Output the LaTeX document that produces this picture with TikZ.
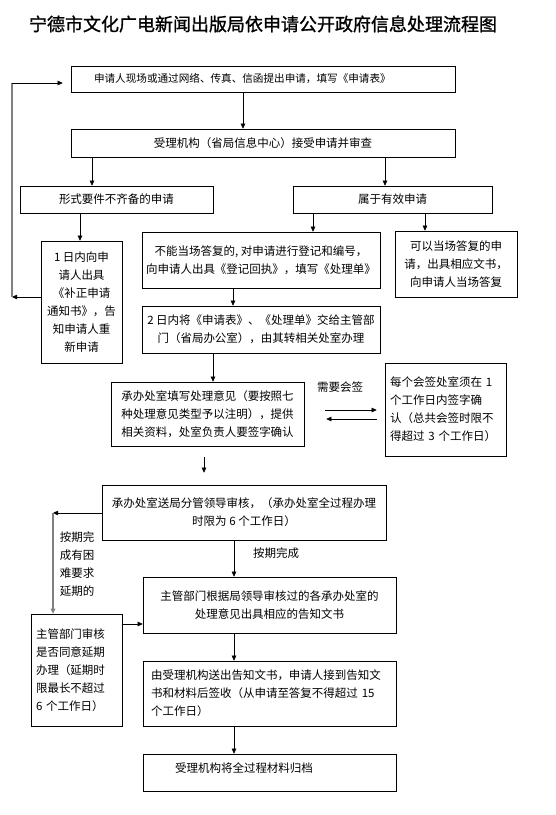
\documentclass[tikz,border=0pt]{standalone}
\usepackage{fontspec}
\setmainfont{Noto Sans CJK SC}
\newfontfamily\titlefont[FakeBold=1.2]{Noto Sans CJK SC}
\usetikzlibrary{arrows.meta}
\begin{document}
\begin{tikzpicture}[x=1pt,y=-1pt,
  >={Triangle[length=5pt,width=4.5pt]},
  box/.style={draw,line width=0.6pt,inner sep=3pt,align=center,
    font=\fontsize{11.5}{18}\selectfont},
  lbl/.style={font=\fontsize{11.5}{18}\selectfont,inner sep=0pt}]
\useasboundingbox (0,0) rectangle (555,815);
\node [font=\titlefont\fontsize{18}{20}\selectfont] (title) at (263,24) {宁德市文化广电新闻出版局依申请公开政府信息处理流程图};
\node [box,minimum height=26pt,inner xsep=23pt,text width=338pt,align=left,font=\fontsize{10.6}{18}\selectfont] (apply) at (263,79) {申请人现场或通过网络、传真、信函提出申请，填写《申请表》};
\node [box,minimum width=384pt,minimum height=28pt] (accept) at (263,143) {受理机构（省局信息中心）接受申请并审查};
\node [box,minimum width=193pt,minimum height=27pt] (incomplete) at (116.5,199.5) {形式要件不齐备的申请};
\node [box,minimum width=199pt,minimum height=27pt] (valid) at (392.5,199.5) {属于有效申请};
\node [box,minimum width=81pt,minimum height=122pt] (notice) at (81.5,302) {1 日内向申\\请人出具\\《补正申请\\通知书》，告\\知申请人重\\新申请};
\node [box,minimum width=238pt,minimum height=56pt] (register) at (261,260) {不能当场答复的, 对申请进行登记和编号，\\向申请人出具《登记回执》，填写《处理单》};
\node [box,minimum width=122pt,minimum height=66pt] (answer) at (456,264) {可以当场答复的申\\请，出具相应文书，\\向申请人当场答复};
\node [box,minimum width=238pt,minimum height=47pt] (forward) at (261,329.5) {2 日内将《申请表》、《处理单》交给主管部\\门（省局办公室），由其转相关处室办理};
\node [box,minimum width=193pt,minimum height=64pt] (opinion) at (207.5,414) {承办处室填写处理意见（要按照七\\种处理意见类型予以注明），提供\\相关资料，处室负责人要签字确认};
\node [box,minimum height=93pt,inner xsep=5pt,text width=111pt,align=left] (cosign) at (445.5,409.5) {每个会签处室须在 1\\个工作日内签字确\\认（总共会签时限不\\得超过 3 个工作日）};
\node [box,minimum width=284pt,minimum height=55pt] (review) at (244,512.5) {承办处室送局分管领导审核，（承办处室全过程办理\\时限为 6 个工作日）};
\node [box,minimum height=112pt,inner xsep=5pt,text width=81pt,align=left] (extend) at (76.5,670) {主管部门审核\\是否同意延期\\办理（延期时\\限最长不超过\\6 个工作日）};
\node [box,minimum width=253pt,minimum height=56pt] (reply) at (269.5,605) {主管部门根据局领导审核过的各承办处室的\\处理意见出具相应的告知文书};
\node [box,minimum height=65pt,inner xsep=8pt,text width=237pt,align=left] (deliver) at (269.5,693.5) {由受理机构送出告知文书，申请人接到告知文\\书和材料后签收（从申请至答复不得超过 15\\个工作日）};
\node [box,minimum height=37pt,inner xsep=32pt,text width=189pt,align=left,text depth=9pt] (archive) at (269.5,772.5) {受理机构将全过程材料归档};
\node [lbl] (need) at (340,387) {需要会签};
\node [lbl,align=left] (late) at (77,564) {按期完\\成有困\\难要求\\延期的};
\node [lbl] (ontime) at (276,553) {按期完成};
\coordinate (loopb) at (12,297);
\coordinate (loopt) at (12,83);
\coordinate (corner) at (53,513);
\draw[->] ([xshift=-20pt]accept.north |- apply.south) -- ([xshift=-20pt]accept.north);
\draw[->] ([xshift=-24.5pt]incomplete.north |- accept.south) -- ([xshift=-24.5pt]incomplete.north);
\draw[->] ([xshift=-7.5pt]valid.north |- accept.south) -- ([xshift=-7.5pt]valid.north);
\draw[->] ([xshift=-1.5pt]notice.north |- incomplete.south) -- ([xshift=-1.5pt]notice.north);
\draw[->] ([xshift=52pt]register.north |- valid.south) -- ([xshift=52pt]register.north);
\draw[->] ([xshift=-31pt]answer.north |- valid.south) -- ([xshift=-31pt]answer.north);
\draw[->] ([xshift=-28pt]forward.north |- register.south) -- ([xshift=-28pt]forward.north);
\draw[->] ([xshift=5.5pt]opinion.north |- forward.south) -- ([xshift=5.5pt]opinion.north);
\draw[->,shorten <=21pt,shorten >=8pt] ([yshift=4pt]opinion.east) -- ([yshift=4pt]opinion.east -| cosign.west);
\draw[->,shorten <=8pt,shorten >=22pt] ([yshift=-5pt]opinion.east -| cosign.west) -- ([yshift=-5pt]opinion.east);
\draw[->,shorten <=11pt,shorten >=12pt] ([xshift=-40pt]review.north |- opinion.south) -- ([xshift=-40pt]review.north);
\draw[->] ([yshift=-0.5pt]review.west) -- (corner);
\draw[->,gray,line width=1.2pt] (corner) -- (extend.north -| corner);
\draw[->] ([xshift=-35.5pt]reply.north |- review.south) -- ([xshift=-35.5pt]reply.north);
\draw[->] ([yshift=46pt]extend.east) -- ([yshift=46pt]extend.east -| reply.west);
\draw[->] ([xshift=-35.5pt]deliver.north |- reply.south) -- ([xshift=-35.5pt]deliver.north);
\draw[->] ([xshift=-35.5pt]archive.north |- deliver.south) -- ([xshift=-35.5pt]archive.north);
\draw[->] ([yshift=5pt]notice.west) -- (loopb);
\draw[gray,line width=1.2pt] (loopb) -- (loopt);
\draw[->,shorten >=8pt] (loopt) -- (loopt -| apply.west);
\end{tikzpicture}
\end{document}
